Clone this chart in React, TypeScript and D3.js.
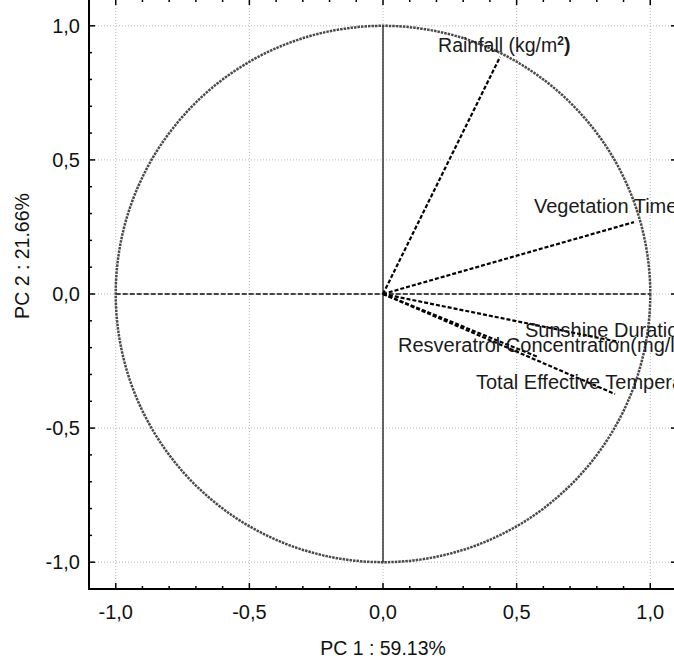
import React, { useRef, useEffect } from "react";
import * as d3 from "d3";

// variables of the PCA correlation circle (loadings on PC1 / PC2)
const variables = [
  "Rainfall",
  "Vegetation Time",
  "Sunshine Duration",
  "Resveratrol Concentration(mg/l)",
  "Total Effective Temperature",
];
const pc1 = [0.438, 0.939, 0.883, 0.58, 0.868];
const pc2 = [0.884, 0.268, -0.179, -0.235, -0.373];

const majorTicks = [-1, -0.5, 0, 0.5, 1];
const tickLabels = ["-1,0", "-0,5", "0,0", "0,5", "1,0"];
const xTitle = "PC 1 : 59.13%";
const yTitle = "PC 2 : 21.66%";

const App = () => {
  const svgRef = useRef<SVGSVGElement | null>(null);

  useEffect(() => {
    if (!svgRef.current) return;
    const width = 674;
    const height = 663;
    const svg = d3.select(svgRef.current);
    svg.selectAll("*").remove();
    svg.attr("width", width).attr("height", height);

    const font = "'Liberation Sans', Arial, Helvetica, sans-serif";
    const x = d3.scaleLinear().domain([-1.1, 1.1]).range([89, 677]);
    const y = d3.scaleLinear().domain([-1.1, 1.1]).range([589, -1]);
    const minorTicks = d3.range(-11, 12).map((i) => i / 10);

    // grid lines at the major ticks
    const grid = svg.append("g");
    majorTicks.forEach((t) => {
      grid
        .append("line")
        .attr("x1", x(t))
        .attr("x2", x(t))
        .attr("y1", y(1.1))
        .attr("y2", y(-1.1))
        .attr("stroke", "#b8b8b8")
        .attr("stroke-width", 1)
        .attr("stroke-dasharray", "1,2");
      grid
        .append("line")
        .attr("x1", x(-1.1))
        .attr("x2", x(1.1))
        .attr("y1", y(t))
        .attr("y2", y(t))
        .attr("stroke", "#b8b8b8")
        .attr("stroke-width", 1)
        .attr("stroke-dasharray", "1,2");
    });

    // unit circle
    svg
      .append("ellipse")
      .attr("cx", x(0))
      .attr("cy", y(0))
      .attr("rx", x(1) - x(0))
      .attr("ry", y(0) - y(1))
      .attr("fill", "none")
      .attr("stroke", "#4a4a4a")
      .attr("stroke-width", 2.5)
      .attr("stroke-dasharray", "2.5,1");

    // axes through origin
    svg
      .append("line")
      .attr("x1", x(-1))
      .attr("x2", x(1))
      .attr("y1", y(0))
      .attr("y2", y(0))
      .attr("stroke", "#444")
      .attr("stroke-width", 1.8)
      .attr("stroke-dasharray", "5,2");
    svg
      .append("line")
      .attr("x1", x(0))
      .attr("x2", x(0))
      .attr("y1", y(1))
      .attr("y2", y(-1))
      .attr("stroke", "#333")
      .attr("stroke-width", 1.5);

    // loading vectors
    const data = variables.map((name, i) => ({ name, px: pc1[i], py: pc2[i] }));
    svg
      .append("g")
      .selectAll("line")
      .data(data)
      .enter()
      .append("line")
      .attr("x1", x(0))
      .attr("y1", y(0))
      .attr("x2", (d) => x(d.px))
      .attr("y2", (d) => y(d.py))
      .attr("stroke", "#000")
      .attr("stroke-width", 2.2)
      .attr("stroke-dasharray", "4,2");

    // label offsets from the vector tips
    const labelDx = [-62, -100, -94, -140, -139];
    const labelDy = [-5, -9, -5, -5, -5];
    const labelSize = ["19.5px", "20px", "20px", "20px", "20px"];
    const labels = svg
      .append("g")
      .selectAll("text")
      .data(data)
      .enter()
      .append("text")
      .attr("x", (d, i) => x(d.px) + labelDx[i])
      .attr("y", (d, i) => y(d.py) + labelDy[i])
      .style("font-family", font)
      .style("font-size", (d, i) => labelSize[i])
      .attr("fill", "#1a1a1a");
    labels.each(function (d, i) {
      const t = d3.select(this);
      if (i === 0) {
        t.append("tspan").text(d.name + " (kg/m");
        t.append("tspan")
          .text("2")
          .attr("dy", -7)
          .style("font-size", "12px")
          .style("font-weight", "bold");
        t.append("tspan").text(")").attr("dy", 7).style("font-weight", "bold");
      } else {
        t.text(d.name);
      }
    });

    // frame
    svg
      .append("rect")
      .attr("x", x(-1.1))
      .attr("y", y(1.1))
      .attr("width", x(1.1) - x(-1.1))
      .attr("height", y(-1.1) - y(1.1))
      .attr("fill", "none")
      .attr("stroke", "#000")
      .attr("stroke-width", 2);

    // ticks on all four sides, pointing inward
    const ticks = svg.append("g").attr("stroke", "#000").attr("stroke-width", 1.5);
    minorTicks.forEach((t) => {
      const major = majorTicks.some((m) => Math.abs(m - t) < 1e-9);
      const len = major ? 6 : 3;
      ticks.append("line").attr("x1", x(t)).attr("x2", x(t)).attr("y1", y(-1.1)).attr("y2", y(-1.1) - len);
      ticks.append("line").attr("x1", x(t)).attr("x2", x(t)).attr("y1", y(1.1)).attr("y2", y(1.1) + len);
      ticks.append("line").attr("y1", y(t)).attr("y2", y(t)).attr("x1", x(-1.1)).attr("x2", x(-1.1) + len);
      ticks.append("line").attr("y1", y(t)).attr("y2", y(t)).attr("x1", x(1.1)).attr("x2", x(1.1) - len);
    });

    // tick labels
    majorTicks.forEach((t, i) => {
      svg
        .append("text")
        .attr("x", x(t))
        .attr("y", y(-1.1) + 30)
        .attr("text-anchor", "middle")
        .style("font-family", font)
        .style("font-size", "20px")
        .attr("fill", "#111")
        .text(tickLabels[i]);
      svg
        .append("text")
        .attr("x", x(-1.1) - 9)
        .attr("y", y(t) + 7)
        .attr("text-anchor", "end")
        .style("font-family", font)
        .style("font-size", "20px")
        .attr("fill", "#111")
        .text(tickLabels[i]);
    });

    // axis titles
    svg
      .append("text")
      .attr("x", x(0))
      .attr("y", 655)
      .attr("text-anchor", "middle")
      .style("font-family", font)
      .style("font-size", "19.5px")
      .attr("fill", "#111")
      .text(xTitle);
    svg
      .append("text")
      .attr("transform", `translate(29, 256) rotate(-90)`)
      .attr("text-anchor", "middle")
      .style("font-family", font)
      .style("font-size", "19.5px")
      .attr("fill", "#111")
      .text(yTitle);
  }, []);

  return (
    <svg
      ref={svgRef}
      style={{ position: "absolute", left: 0, top: 0, background: "#fff" }}
    ></svg>
  );
};

export default App;
